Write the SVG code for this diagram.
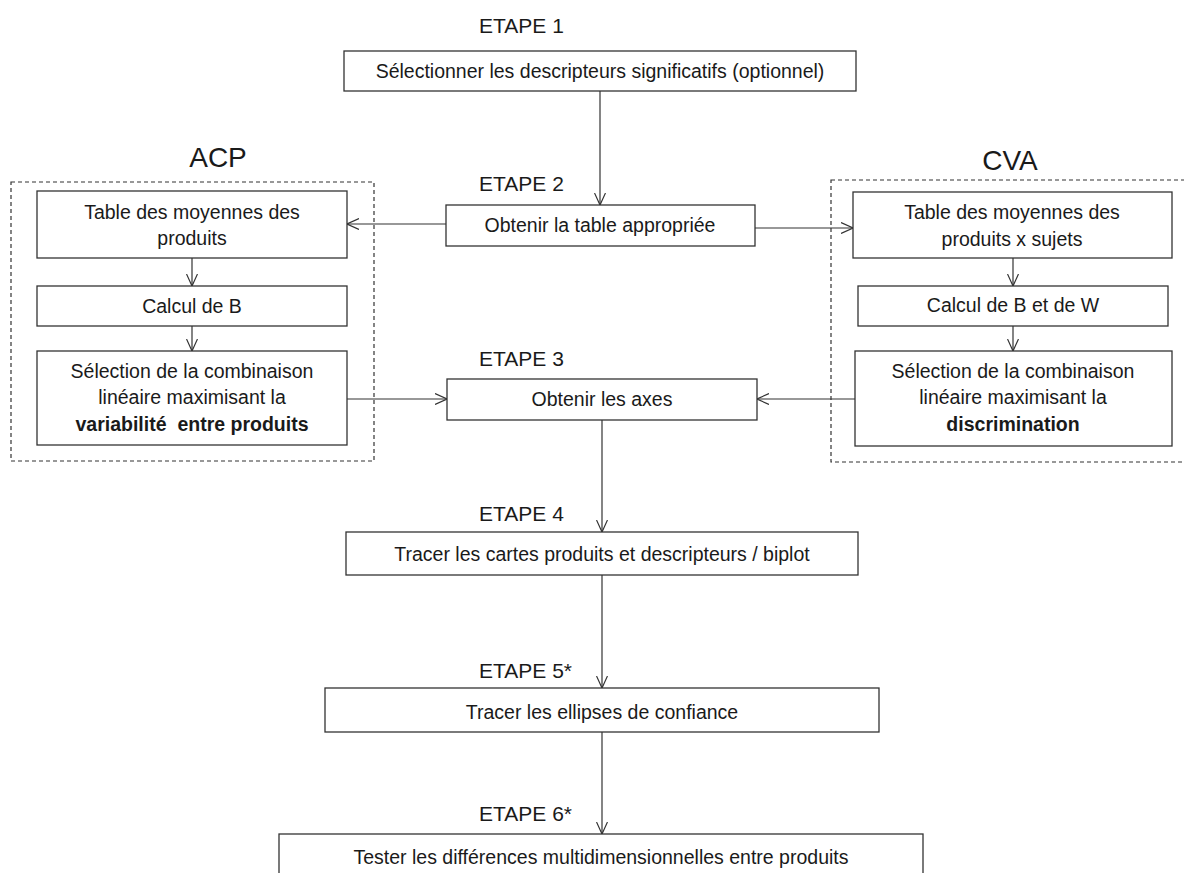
<svg xmlns="http://www.w3.org/2000/svg" width="1184" height="873" viewBox="0 0 1184 873">
<defs>
<marker id="arr" viewBox="0 0 12 12" refX="12" refY="6" markerWidth="12" markerHeight="12" markerUnits="userSpaceOnUse" orient="auto">
<path d="M0,0.5 L12,6 L0,11.5" fill="none" stroke="#333" stroke-width="1.2"/>
</marker>
</defs>
<style>
.box{fill:#fff;stroke:#333;stroke-width:1.3}
.dash{fill:none;stroke:#333;stroke-width:1.2;stroke-dasharray:4,3}
.t{font-family:"Liberation Sans",Arial,sans-serif;font-size:19.5px;fill:#1a1a1a;text-anchor:middle}
.b{font-weight:bold}
.step{font-family:"Liberation Sans",Arial,sans-serif;font-size:21px;fill:#1a1a1a}
.big{font-family:"Liberation Sans",Arial,sans-serif;font-size:28px;fill:#1a1a1a;text-anchor:middle}
.c{stroke:#333;stroke-width:1.2;fill:none;marker-end:url(#arr)}
</style>
<rect width="1184" height="873" fill="#fff"/>

<g id="labels">
<text class="step" x="479" y="33">ETAPE 1</text>
<text class="step" x="479" y="191">ETAPE 2</text>
<text class="step" x="479" y="366">ETAPE 3</text>
<text class="step" x="479" y="521">ETAPE 4</text>
<text class="step" x="479" y="678">ETAPE 5*</text>
<text class="step" x="479" y="821">ETAPE 6*</text>
<text class="big" x="218" y="167">ACP</text>
<text class="big" x="1010" y="170">CVA</text>
</g>

<g id="groups">
<rect class="dash" x="11" y="182" width="363" height="279"/>
<rect class="dash" x="831" y="180" width="360" height="282"/>
</g>

<g id="connectors">
<line class="c" x1="600" y1="91" x2="600" y2="205"/>
<line class="c" x1="446" y1="224" x2="347" y2="224"/>
<line class="c" x1="755" y1="228" x2="853" y2="228"/>
<line class="c" x1="192" y1="258" x2="192" y2="286"/>
<line class="c" x1="192" y1="326" x2="192" y2="351"/>
<line class="c" x1="1013" y1="258" x2="1013" y2="286"/>
<line class="c" x1="1013" y1="326" x2="1013" y2="351"/>
<line class="c" x1="347" y1="399" x2="447" y2="399"/>
<line class="c" x1="855" y1="399" x2="757" y2="399"/>
<line class="c" x1="602" y1="420" x2="602" y2="532"/>
<line class="c" x1="602" y1="575" x2="602" y2="688"/>
<line class="c" x1="602" y1="732" x2="602" y2="834"/>
</g>

<g id="n1">
<rect class="box" x="344" y="51" width="512" height="40"/>
<text class="t" x="600" y="78">Sélectionner les descripteurs significatifs (optionnel)</text>
</g>
<g id="n2">
<rect class="box" x="446" y="205" width="309" height="41"/>
<text class="t" x="600" y="232">Obtenir la table appropriée</text>
</g>
<g id="acp1">
<rect class="box" x="37" y="191" width="310" height="67"/>
<text class="t" x="192" y="219">Table des moyennes des</text>
<text class="t" x="192" y="245">produits</text>
</g>
<g id="acp2">
<rect class="box" x="37" y="286" width="310" height="40"/>
<text class="t" x="192" y="313">Calcul de B</text>
</g>
<g id="acp3">
<rect class="box" x="37" y="351" width="310" height="94"/>
<text class="t" x="192" y="378">Sélection de la combinaison</text>
<text class="t" x="192" y="404">linéaire maximisant la</text>
<text class="t b" x="192" y="431" xml:space="preserve">variabilité  entre produits</text>
</g>
<g id="cva1">
<rect class="box" x="853" y="192" width="319" height="66"/>
<text class="t" x="1012" y="219">Table des moyennes des</text>
<text class="t" x="1012" y="246">produits x sujets</text>
</g>
<g id="cva2">
<rect class="box" x="858" y="286" width="310" height="40"/>
<text class="t" x="1013" y="312">Calcul de B et de W</text>
</g>
<g id="cva3">
<rect class="box" x="855" y="351" width="317" height="95"/>
<text class="t" x="1013" y="378">Sélection de la combinaison</text>
<text class="t" x="1013" y="404">linéaire maximisant la</text>
<text class="t b" x="1013" y="431">discrimination</text>
</g>
<g id="n3">
<rect class="box" x="447" y="379" width="310" height="41"/>
<text class="t" x="602" y="406">Obtenir les axes</text>
</g>
<g id="n4">
<rect class="box" x="346" y="532" width="512" height="43"/>
<text class="t" x="602" y="561">Tracer les cartes produits et descripteurs / biplot</text>
</g>
<g id="n5">
<rect class="box" x="325" y="688" width="554" height="44"/>
<text class="t" x="602" y="719">Tracer les ellipses de confiance</text>
</g>
<g id="n6">
<rect class="box" x="279" y="834" width="644" height="60"/>
<text class="t" x="601" y="864">Tester les différences multidimensionnelles entre produits</text>
</g>
</svg>
